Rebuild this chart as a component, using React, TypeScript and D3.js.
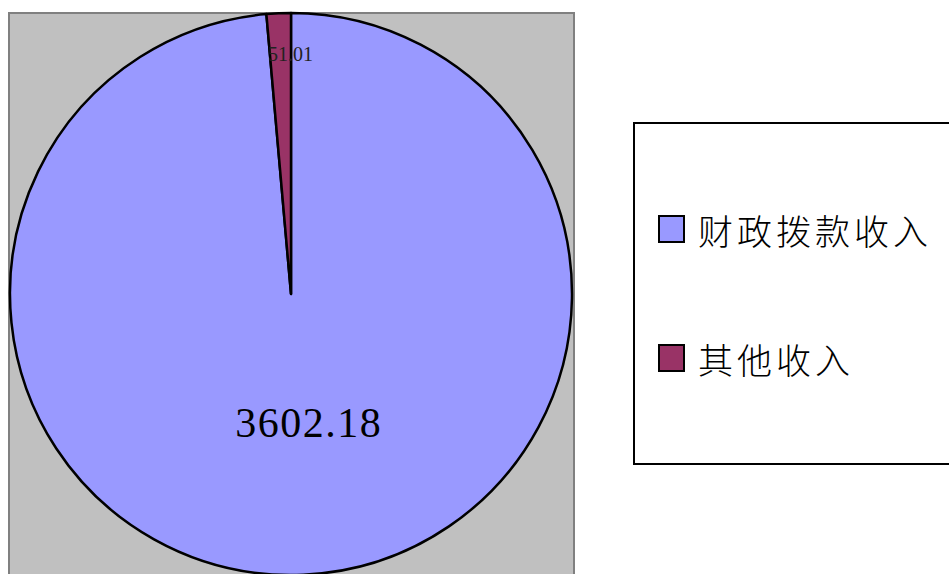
import React from 'react'
import * as d3 from 'd3'

// chart data
const categories = ['财政拨款收入', '其他收入']
const values = [3602.18, 51.01]
const colors = ['#9999FF', '#993366']

const W = 949
const H = 574

export default function App() {
  const cx = 291
  const cy = 294
  const r = 281

  const pie = d3
    .pie<number>()
    .sort(null)
    .startAngle(0)
    .endAngle(2 * Math.PI)
  const arcs = pie(values)

  const arc = d3.arc<d3.PieArcDatum<number>>().innerRadius(0).outerRadius(r)

  // label radii like excel's default placement
  const bigLabel = d3.arc<d3.PieArcDatum<number>>().innerRadius(r * 0.46).outerRadius(r * 0.46)
  const smallLabel = d3.arc<d3.PieArcDatum<number>>().innerRadius(r * 0.855).outerRadius(r * 0.855)

  const legendY = d3.scalePoint<string>().domain(categories).range([229, 358])

  return (
    <svg
      width={W}
      height={H}
      style={{ position: 'absolute', left: 0, top: 0, background: '#fff' }}
    >
      {/* plot area */}
      <rect x={9} y={13} width={565} height={H} fill="#C0C0C0" stroke="#808080" strokeWidth={2} />

      <g transform={`translate(${cx},${cy})`}>
        {arcs.map((a, i) => (
          <path key={i} d={arc(a) ?? ''} fill={colors[i]} stroke="#000" strokeWidth={2.5} strokeLinejoin="round" />
        ))}
        {arcs.map((a, i) => {
          const big = a.endAngle - a.startAngle > Math.PI
          const [x, y] = big ? bigLabel.centroid(a) : smallLabel.centroid(a)
          return (
            <text
              key={'t' + i}
              x={big ? x + 12 : x + 10}
              y={y}
              textAnchor="middle"
              dominantBaseline="central"
              fontFamily="'Liberation Serif', 'Times New Roman', serif"
              fontSize={big ? 42 : 20}
              letterSpacing={big ? 1.5 : 0}
              fill={big ? '#000' : '#222'}
            >
              {d3.format('.2f')(a.data)}
            </text>
          )
        })}
      </g>

      {/* legend */}
      <rect x={634} y={123} width={340} height={341} fill="#fff" stroke="#000" strokeWidth={2} />
      {categories.map((c, i) => {
        const y = legendY(c) ?? 0
        return (
          <g key={c}>
            <rect x={659} y={y - 13} width={25} height={26} fill={colors[i]} stroke="#000" strokeWidth={2} />
            <text
              x={698}
              y={y}
              dominantBaseline="central"
              fontFamily="'Noto Sans CJK SC', sans-serif"
              fontSize={35}
              fontWeight={300}
              letterSpacing={4}
              fill="#000"
            >
              {c}
            </text>
          </g>
        )
      })}
    </svg>
  )
}
